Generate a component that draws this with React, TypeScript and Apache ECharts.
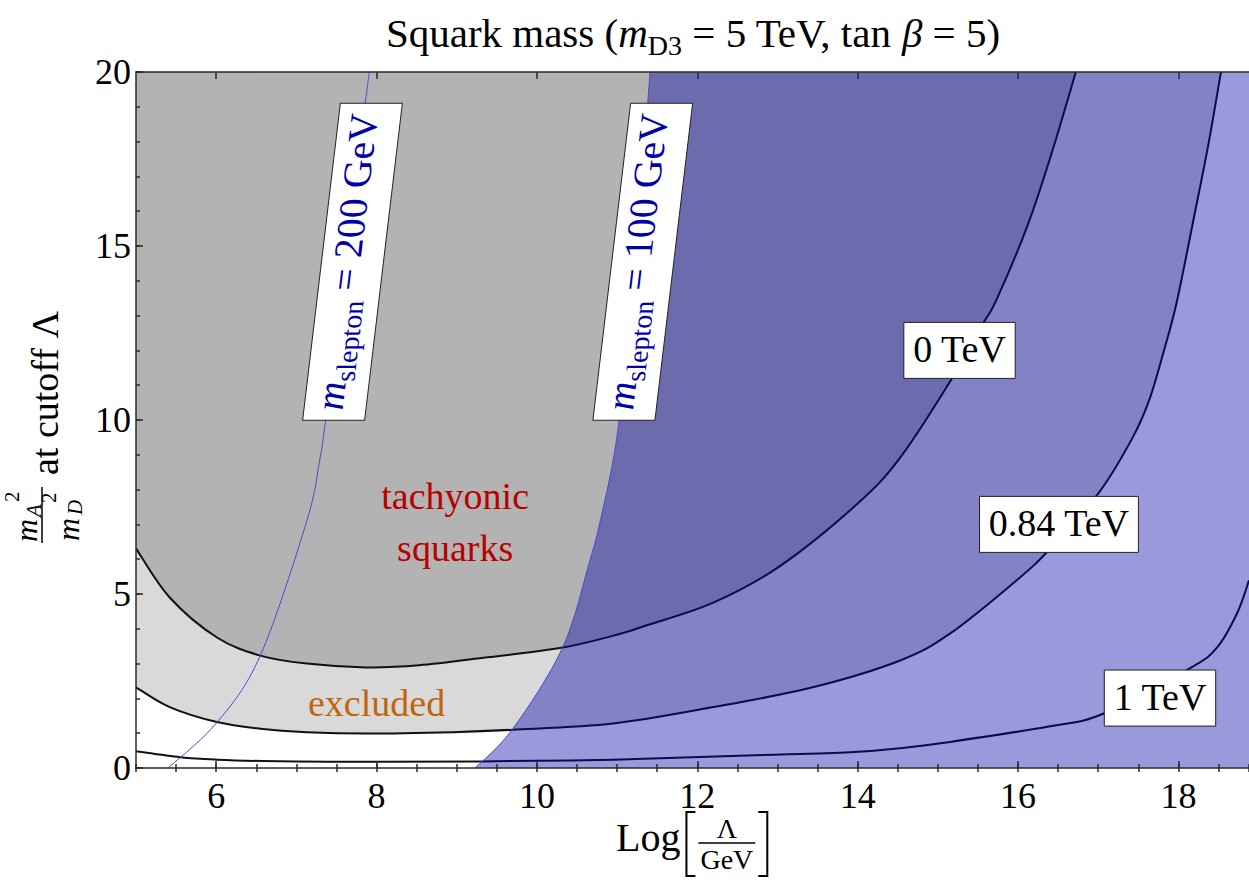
import React, { useEffect, useRef } from 'react';
import * as echarts from 'echarts';

// Axis ranges: log10(Λ / GeV) against mA²/mD² at the cutoff
const X_MIN = 5;
const X_MAX = 18.88;
const Y_MIN = 0;
const Y_MAX = 20;
const xMajorTicks = [6, 8, 10, 12, 14, 16, 18];

// Squark mass contours, [log10(Λ/GeV), mA²/mD²]
const squark0TeV = [
  [5.0, 6.31], [5.42, 4.9], [6.01, 3.75], [6.55, 3.23], [7.13, 3.0], [7.87, 2.89],
  [8.53, 2.95], [9.38, 3.18], [10.32, 3.46], [11.03, 3.85], [11.37, 4.1], [12.2, 4.75],
  [13.03, 5.8], [14.0, 7.6], [14.53, 8.92], [15.15, 11.1], [15.56, 12.76],
  [15.73, 13.45], [16.12, 15.6], [16.43, 17.75], [16.72, 20.0],
];
const squark084TeV = [
  [5.0, 2.32], [5.42, 1.75], [6.01, 1.32], [6.55, 1.13], [7.13, 1.03], [7.87, 0.99],
  [8.95, 1.03], [9.7, 1.1], [10.95, 1.28], [12.2, 1.75], [13.44, 2.32], [14.53, 3.09],
  [15.15, 3.86], [15.98, 5.39], [16.4, 6.3], [17.02, 7.95], [17.43, 9.5], [17.64, 10.6],
  [17.82, 12.0], [17.98, 13.4], [18.2, 15.9], [18.38, 18.0], [18.53, 20.0],
];
const squark1TeV = [
  [5.0, 0.48], [5.55, 0.31], [6.01, 0.24], [6.58, 0.2], [7.42, 0.18], [8.0, 0.18],
  [9.29, 0.19], [10.95, 0.24], [12.62, 0.36], [13.9, 0.45], [14.53, 0.57], [15.15, 0.75],
  [16.4, 1.2], [17.06, 1.56], [18.14, 2.86], [18.48, 3.46], [18.73, 4.44], [18.88, 5.39],
];
// Slepton mass contours
const slepton100GeV = [
  [9.23, 0], [9.7, 1.13], [10.32, 3.46], [10.66, 5.96], [10.79, 7.1], [10.95, 8.84],
  [11.04, 10.3], [11.14, 12.6], [11.24, 15.0], [11.33, 17.5], [11.41, 20],
];
const slepton200GeV = [
  [5.4, 0], [6.01, 1.31], [6.55, 3.23], [7.13, 7.1], [7.29, 8.84], [7.36, 9.9],
  [7.52, 12.7], [7.66, 15.3], [7.78, 17.6], [7.87, 19.3], [7.91, 20],
];

// Label anchors in data coordinates
const contourLabels = [
  { text: '0 TeV', at: [15.27, 12.0] },
  { text: '0.84 TeV', at: [16.51, 7.0] },
  { text: '1 TeV', at: [17.77, 2.01] },
];
const sleptonLabels = [
  { value: '200 GeV', at: [7.7, 14.55] },
  { value: '100 GeV', at: [11.32, 14.55] },
];
const tachyonicAt = [[8.98, 7.83], [8.98, 6.31]];
const excludedAt = [8.0, 1.88];

const FONT = '"Liberation Serif", "Times New Roman", serif';
const GRAY = '#b3b3b3';
const LIGHT_GRAY = '#d9d9d9';
const BLUE_VEIL = 'rgba(0, 0, 167, 0.4)';
const SLEPTON_LINE = '#4a4ad2';
const AXIS_COLOR = '#2a2a2a';
const CENTRAL = 0.34; // central baseline offset of the serif face, in em

const fmt = (v: number) => v.toFixed(2);

// Smooth cubic segments through pixel points (Catmull-Rom form)
function spline(P: number[][]): string {
  let d = '';
  for (let i = 0; i < P.length - 1; i++) {
    const p0 = P[Math.max(i - 1, 0)];
    const p1 = P[i];
    const p2 = P[i + 1];
    const p3 = P[Math.min(i + 2, P.length - 1)];
    const c1x = p1[0] + (p2[0] - p0[0]) / 6;
    const c1y = p1[1] + (p2[1] - p0[1]) / 6;
    const c2x = p2[0] - (p3[0] - p1[0]) / 6;
    const c2y = p2[1] - (p3[1] - p1[1]) / 6;
    d += ` C${fmt(c1x)},${fmt(c1y)} ${fmt(c2x)},${fmt(c2y)} ${fmt(p2[0])},${fmt(p2[1])}`;
  }
  return d;
}
const pt = (p: number[]) => `${fmt(p[0])},${fmt(p[1])}`;

function toPixels(api: any, pts: number[][]) {
  return pts.map((p) => api.coord(p));
}

function curveSeries(name: string, data: number[][], build: (api: any) => any) {
  return {
    type: 'custom',
    name,
    data,
    clip: true,
    silent: true,
    encode: { x: 0, y: 1 },
    renderItem: (params: any, api: any) => (params.dataIndex === 0 ? build(api) : null),
  };
}

function strokeOf(pts: number[][], color: string, width: number) {
  return (api: any) => {
    const c = toPixels(api, pts);
    return {
      type: 'path',
      shape: { pathData: `M${pt(c[0])}${spline(c)}` },
      style: { fill: 'none', stroke: color, lineWidth: width },
    };
  };
}

function buildOption() {
  const lineStyle = { color: AXIS_COLOR, width: 1.5 };
  const xBase = {
    type: 'value',
    min: X_MIN,
    max: X_MAX,
    z: 10,
    splitLine: { show: false },
  };
  const yBase = {
    type: 'value',
    min: Y_MIN,
    max: Y_MAX,
    z: 10,
    splitLine: { show: false },
  };
  return {
    animation: false,
    backgroundColor: '#ffffff',
    grid: {
      left: 136,
      top: 72,
      width: 1113,
      height: 696,
      containLabel: false,
      outerBoundsMode: 'none',
    },
    xAxis: [
      {
        ...xBase,
        position: 'bottom',
        axisLine: { show: true, onZero: false, lineStyle },
        axisTick: { show: true, inside: true, length: 7, customValues: xMajorTicks, lineStyle },
        axisLabel: {
          show: true,
          customValues: xMajorTicks,
          fontSize: 36,
          fontFamily: FONT,
          color: '#000',
          margin: 10,
        },
      },
      {
        ...xBase,
        position: 'bottom',
        interval: 0.5,
        axisLine: { show: false },
        axisTick: { show: true, inside: true, length: 4, lineStyle },
        axisLabel: { show: false },
      },
      {
        ...xBase,
        position: 'top',
        axisLine: { show: true, onZero: false, lineStyle },
        axisTick: { show: true, inside: true, length: 7, customValues: xMajorTicks, lineStyle },
        axisLabel: { show: false },
      },
      {
        ...xBase,
        position: 'top',
        interval: 0.5,
        axisLine: { show: false },
        axisTick: { show: true, inside: true, length: 4, lineStyle },
        axisLabel: { show: false },
      },
    ],
    yAxis: [
      {
        ...yBase,
        position: 'left',
        interval: 5,
        axisLine: { show: true, onZero: false, lineStyle },
        axisTick: { show: true, inside: true, length: 7, lineStyle },
        axisLabel: { fontSize: 36, fontFamily: FONT, color: '#000', margin: 5 },
      },
      {
        ...yBase,
        position: 'left',
        interval: 1,
        axisLine: { show: false },
        axisTick: { show: true, inside: true, length: 4, lineStyle },
        axisLabel: { show: false },
      },
    ],
    series: [
      // tachyonic squarks: above the 0 TeV contour
      curveSeries('tachyonic', squark0TeV, (api) => {
        const c = toPixels(api, squark0TeV);
        const corner = api.coord([X_MIN, Y_MAX]);
        return {
          type: 'path',
          shape: { pathData: `M${pt(corner)} L${pt(c[0])}${spline(c)} Z` },
          style: { fill: GRAY, stroke: 'none' },
        };
      }),
      // excluded band between 0 TeV and 0.84 TeV
      curveSeries('excluded', squark084TeV, (api) => {
        const a = toPixels(api, squark0TeV);
        const b = toPixels(api, squark084TeV).reverse();
        return {
          type: 'path',
          shape: { pathData: `M${pt(a[0])}${spline(a)} L${pt(b[0])}${spline(b)} Z` },
          style: { fill: LIGHT_GRAY, stroke: 'none' },
        };
      }),
      curveSeries('0 TeV', squark0TeV, strokeOf(squark0TeV, '#111', 2)),
      curveSeries('0.84 TeV', squark084TeV, strokeOf(squark084TeV, '#111', 2)),
      curveSeries('1 TeV', squark1TeV, strokeOf(squark1TeV, '#111', 2)),
      // slepton lighter than 100 GeV: blue veil to the right of the contour
      curveSeries('slepton < 100 GeV', slepton100GeV, (api) => {
        const s = toPixels(api, slepton100GeV);
        const tr = api.coord([X_MAX, Y_MAX]);
        const br = api.coord([X_MAX, Y_MIN]);
        return {
          type: 'group',
          children: [
            {
              type: 'path',
              shape: { pathData: `M${pt(s[0])}${spline(s)} L${pt(tr)} L${pt(br)} Z` },
              style: { fill: BLUE_VEIL, stroke: 'none' },
            },
            {
              type: 'path',
              shape: { pathData: `M${pt(s[0])}${spline(s)}` },
              style: { fill: 'none', stroke: SLEPTON_LINE, lineWidth: 1 },
            },
          ],
        };
      }),
      curveSeries('slepton 200 GeV', slepton200GeV, strokeOf(slepton200GeV, SLEPTON_LINE, 1)),
    ],
  };
}

// ---- text helpers -------------------------------------------------------

type Piece = { text: string; size: number; italic?: boolean; dy?: number };

let measureCtx: CanvasRenderingContext2D | null = null;
function textWidth(text: string, size: number, italic?: boolean) {
  if (!measureCtx) measureCtx = document.createElement('canvas').getContext('2d');
  measureCtx!.font = `${italic ? 'italic ' : ''}${size}px ${FONT}`;
  return measureCtx!.measureText(text).width;
}
function piecesWidth(pieces: Piece[]) {
  return pieces.reduce((w, p) => w + textWidth(p.text, p.size, p.italic), 0);
}
function textEl(text: string, x: number, y: number, size: number, color: string, opts: any = {}) {
  return {
    type: 'text',
    x,
    y,
    z: 100,
    silent: true,
    style: {
      text,
      fontSize: size,
      fontFamily: FONT,
      fontStyle: opts.italic ? 'italic' : 'normal',
      fill: color,
      textAlign: opts.align || 'left',
      align: opts.align || 'left',
      textVerticalAlign: 'middle',
      verticalAlign: 'middle',
    },
  };
}
// Lay a run of pieces along a baseline, starting at x0
function run(pieces: Piece[], x0: number, baseline: number, color: string) {
  const out: any[] = [];
  let x = x0;
  for (const p of pieces) {
    out.push(textEl(p.text, x, baseline + (p.dy || 0) - CENTRAL * p.size, p.size, color, { italic: p.italic }));
    x += textWidth(p.text, p.size, p.italic);
  }
  return out;
}
function strokeEl(points: number[][], width = 1.5) {
  return {
    type: 'polyline',
    z: 100,
    silent: true,
    shape: { points },
    style: { stroke: '#000', lineWidth: width, fill: 'none' },
  };
}

// Group whose local axes map onto screen vectors u (text direction) and v (text down),
// built from rotation / scale / rotation so that only standard transforms are used.
function affineGroup(cx: number, cy: number, u: number[], v: number[], children: any[]) {
  const a = u[0];
  const c = u[1];
  const b = v[0];
  const d = v[1];
  const E = (a + d) / 2;
  const F = (a - d) / 2;
  const G = (c + b) / 2;
  const H = (c - b) / 2;
  const Q = Math.hypot(E, H);
  const R = Math.hypot(F, G);
  const a1 = Math.atan2(G, F);
  const a2 = Math.atan2(H, E);
  const theta = (a2 - a1) / 2;
  const phi = (a2 + a1) / 2;
  return {
    type: 'group',
    x: cx,
    y: cy,
    rotation: -phi,
    scaleX: Q + R,
    scaleY: Q - R,
    z: 100,
    children: [{ type: 'group', rotation: -theta, z: 100, children }],
  };
}

function buildGraphics(chart: any) {
  const toPx = (p: number[]) => chart.convertToPixel({ gridIndex: 0 }, p) as number[];
  const els: any[] = [];

  // title
  const title: Piece[] = [
    { text: 'Squark mass (', size: 41 },
    { text: 'm', size: 41, italic: true },
    { text: 'D3', size: 28, dy: 8 },
    { text: ' = 5 TeV, tan ', size: 41 },
    { text: 'β', size: 41, italic: true },
    { text: ' = 5)', size: 41 },
  ];
  els.push(...run(title, 693 - piecesWidth(title) / 2, 47, '#000'));

  // x-axis name: Log[Λ / GeV]
  const x0 = 616;
  const logW = textWidth('Log', 40);
  const fracW = textWidth('GeV', 28) + 4;
  const top = 812;
  const bottom = 876;
  const lb = x0 + logW + 6;
  const fracX = lb + 12;
  const rb = fracX + fracW + 12;
  els.push(...run([{ text: 'Log', size: 40 }], x0, 851, '#000'));
  els.push(strokeEl([[lb + 9, top], [lb, top], [lb, bottom], [lb + 9, bottom]], 2));
  els.push(textEl('Λ', fracX + fracW / 2, 838 - CENTRAL * 28, 28, '#000', { align: 'center' }));
  els.push(strokeEl([[fracX, 843], [fracX + fracW, 843]]));
  els.push(textEl('GeV', fracX + fracW / 2, 869 - CENTRAL * 28, 28, '#000', { align: 'center' }));
  els.push(strokeEl([[rb - 9, top], [rb, top], [rb, bottom], [rb - 9, bottom]], 2));

  // y-axis name, rotated: mA²/mD² at cutoff Λ
  const yName: any[] = [];
  yName.push(textEl('at cutoff Λ', 0, 0, 38, '#000'));
  yName.push(strokeEl([[-68, -3], [-12, -3]]));
  yName.push(textEl('m', -67, -8 - CENTRAL * 32, 32, '#000', { italic: true }));
  yName.push(textEl('A', -42, -4 - CENTRAL * 21, 21, '#000', { italic: true }));
  yName.push(textEl('2', -27, -26 - CENTRAL * 21, 21, '#000'));
  yName.push(textEl('m', -66, 34 - CENTRAL * 32, 32, '#000', { italic: true }));
  yName.push(textEl('D', -40, 37 - CENTRAL * 21, 21, '#000', { italic: true }));
  yName.push(textEl('2', -28, 11 - CENTRAL * 21, 21, '#000'));
  els.push({ type: 'group', x: 45, y: 475, rotation: Math.PI / 2, z: 100, children: yName });

  // region annotations
  const t1 = toPx(tachyonicAt[0]);
  const t2 = toPx(tachyonicAt[1]);
  els.push(textEl('tachyonic', t1[0], t1[1], 38, '#b80000', { align: 'center' }));
  els.push(textEl('squarks', t2[0], t2[1], 38, '#b80000', { align: 'center' }));
  const ex = toPx(excludedAt);
  els.push(textEl('excluded', ex[0], ex[1], 38, '#c0650c', { align: 'center' }));

  // contour value boxes
  for (const lab of contourLabels) {
    const c = toPx(lab.at);
    const w = textWidth(lab.text, 38) + 18;
    const h = 56;
    els.push({
      type: 'group',
      x: c[0],
      y: c[1],
      z: 100,
      children: [
        {
          type: 'rect',
          z: 100,
          silent: true,
          shape: { x: -w / 2, y: -h / 2, width: w, height: h },
          style: { fill: '#ffffff', stroke: '#222', lineWidth: 1 },
        },
        textEl(lab.text, 0, -1, 38, '#000', { align: 'center' }),
      ],
    });
  }

  // slepton contour boxes: text runs up the tilted line, its cross direction stays horizontal
  const lean = Math.tan((6.8 * Math.PI) / 180);
  for (const lab of sleptonLabels) {
    const c = toPx(lab.at);
    const pieces: Piece[] = [
      { text: 'm', size: 40, italic: true },
      { text: 'slepton', size: 28, dy: 8 },
      { text: ' = ' + lab.value, size: 40 },
    ];
    const tw = piecesWidth(pieces);
    const w = 317;
    const h = 62;
    els.push(
      affineGroup(c[0], c[1], [lean, -1], [1, 0], [
        {
          type: 'rect',
          z: 100,
          silent: true,
          shape: { x: -w / 2, y: -h / 2, width: w, height: h },
          style: { fill: '#ffffff', stroke: '#222', lineWidth: 1 },
        },
        ...run(pieces, -tw / 2, 8, '#0000a8'),
      ]),
    );
  }
  return els;
}

export default function App() {
  const ref = useRef<HTMLDivElement>(null);
  useEffect(() => {
    const el = ref.current;
    if (!el) return;
    const chart = echarts.init(el, undefined, { renderer: 'svg' });
    chart.setOption(buildOption() as any);
    chart.setOption({ graphic: { elements: buildGraphics(chart) } } as any);
    return () => {
      chart.dispose();
    };
  }, []);
  return (
    <div
      ref={ref}
      style={{ position: 'fixed', left: 0, top: 0, width: 1249, height: 880, background: '#ffffff' }}
    />
  );
}
